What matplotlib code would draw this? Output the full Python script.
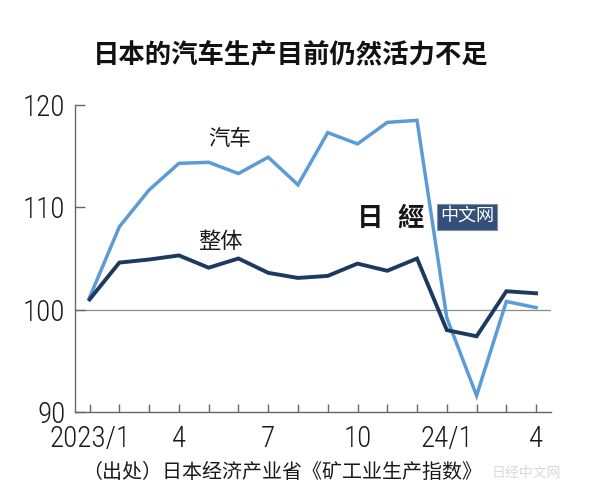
import matplotlib
matplotlib.use('Agg')
import matplotlib.pyplot as plt
from matplotlib import font_manager
from matplotlib.patches import FancyBboxPatch

# ---- data ----
months = list(range(16))
xtick_labels = ['2023/1', '', '', '4', '', '', '7', '', '', '10', '', '', '24/1', '', '', '4']
auto = [101.2, 108.1, 111.7, 114.3, 114.4, 113.3, 114.9, 112.2, 117.3, 116.2, 118.3, 118.5,
        99.2, 91.6, 100.8, 100.2]
total = [101.0, 104.6, 104.9, 105.3, 104.1, 105.0, 103.6, 103.1, 103.3, 104.5, 103.8, 105.0,
         98.0, 97.4, 101.8, 101.6]
yticks = [90, 100, 110, 120]
title = '日本的汽车生产目前仍然活力不足'
label_auto = '汽车'
label_total = '整体'
source = '（出处）日本经济产业省《矿工业生产指数》'

names = {f.name for f in font_manager.fontManager.ttflist}
num_font = 'Liberation Sans'
for cand in ['Roboto Condensed', 'Archivo Narrow', 'PT Sans Narrow']:
    if cand in names:
        num_font = cand
        break
cjk = ['Noto Sans CJK SC', 'DejaVu Sans']

W, H = 600, 498
fig = plt.figure(figsize=(W / 100, H / 100), dpi=100)
fig.patch.set_facecolor('white')

def fx(x):
    return x / W

def fy(y):
    return 1 - y / H

ax_l, ax_r, ax_t, ax_b = 75, 551, 105, 412
ax = fig.add_axes([fx(ax_l), fy(ax_b), (ax_r - ax_l) / W, (ax_b - ax_t) / H])

light = '#5b9bd6'
dark = '#1c3a60'
grey = '#666666'

ax.axhline(100, color='#8a8a8a', lw=0.9, zorder=1)
ax.plot(months, auto, color=light, lw=2.5, solid_joinstyle='miter', zorder=3)
ax.plot(months, total, color=dark, lw=2.8, solid_joinstyle='miter', zorder=4)

ax.set_xlim(-0.49, 15.5)
ax.set_ylim(90, 120)

for s in ['top', 'right']:
    ax.spines[s].set_visible(False)
for s in ['left', 'bottom']:
    ax.spines[s].set_color(grey)
    ax.spines[s].set_linewidth(1.0)

ax.set_xticks(months)
ax.set_xticklabels(xtick_labels, fontfamily=num_font, fontweight='light', fontsize=21,
                   color='#1a1a1a')
ax.set_yticks(yticks)
ax.set_yticklabels([str(v) for v in yticks], fontfamily=num_font, fontweight='light',
                   fontsize=21, color='#1a1a1a')
ax.tick_params(axis='x', direction='in', length=5.5, width=1.0, color=grey, pad=9.5)
ax.tick_params(axis='y', direction='in', length=7.5, width=1.0, color=grey, pad=7)

# title and labels
fig.text(fx(291), fy(56), title, family=cjk, fontsize=19, fontweight='bold',
         ha='center', va='center', color='#111111')
fig.text(fx(230), fy(139), label_auto, family=cjk, fontsize=15.5, ha='center', va='center',
         color='#1a1a1a')
fig.text(fx(220), fy(241), label_total, family=cjk, fontsize=16, ha='center', va='center',
         color='#1a1a1a')
fig.text(fx(82), fy(472), source, family=cjk, fontsize=14.4, ha='left', va='center',
         color='#1a1a1a')

# watermark logo
logo_fam = ['Noto Sans CJK TC', 'DejaVu Sans']
fig.text(fx(370), fy(218), '日', family=logo_fam, fontsize=19,
         fontweight='black', ha='center', va='center', color='#151515', zorder=10)
fig.text(fx(411), fy(218), '經', family=logo_fam, fontsize=19,
         fontweight='black', ha='center', va='center', color='#151515', zorder=10)
box = FancyBboxPatch((fx(437), fy(230)), (497 - 437) / W, (230 - 204) / H,
                     boxstyle='square,pad=0', transform=fig.transFigure,
                     facecolor='#33507a', edgecolor='#8090a8', lw=0.8, zorder=9)
fig.patches.append(box)
fig.text(fx(467), fy(217), '中文网', family=cjk, fontsize=13, ha='center', va='center',
         color='white', zorder=11)

# faded watermark bottom right
fig.text(fx(526), fy(473), '日经中文网', family=cjk, fontsize=10, ha='center', va='center',
         color='#d9d9d9')

fig.savefig('out.png', dpi=100, facecolor='white')
